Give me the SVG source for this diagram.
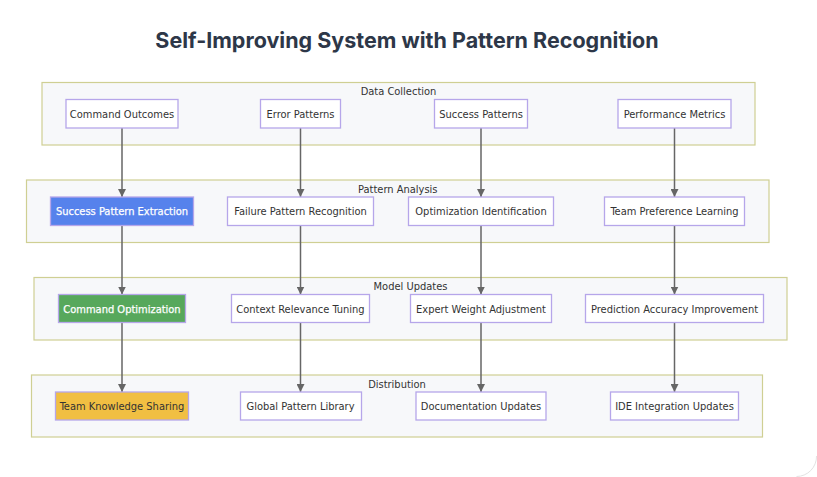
<svg xmlns="http://www.w3.org/2000/svg" width="817" height="477" viewBox="0 0 817 477">
<defs>
<marker id="ah" viewBox="0 0 10 10" refX="10" refY="5" markerWidth="8" markerHeight="8" markerUnits="userSpaceOnUse" orient="auto">
<path d="M0,0 L10,5 L0,10 z" fill="#666"/>
</marker>
<style>
.bg{fill:#ffffff}
.title{font-family:Inter,"Liberation Sans",sans-serif;font-size:21.5px;font-weight:700;fill:#2d3748;text-anchor:middle}
.cl{fill:#f7f8fa;stroke:#cfcf93;stroke-width:1.2}
.clt{font-family:"DejaVu Sans Condensed","DejaVu Sans",sans-serif;font-size:11px;fill:#333;text-anchor:middle}
.nd{fill:#ffffff;stroke:#b6a6ea;stroke-width:1.3}
.nt{font-family:"DejaVu Sans Condensed","DejaVu Sans",sans-serif;font-size:11px;fill:#333;text-anchor:middle}
.blue{fill:#5682ec}
.green{fill:#57a85c}
.yellow{fill:#f1bf42}
.wt{fill:#ffffff;stroke:#ffffff;stroke-width:0.25}
.edge{stroke:#666;stroke-width:1.5;fill:none;marker-end:url(#ah)}
.frame{fill:none;stroke:#e2e2e2;stroke-width:1}
</style>
</defs>
<rect class="bg" x="0" y="0" width="817" height="477"/>
<path class="frame" d="M816.5,456 A20,20 0 0 1 796.5,476.5"/>
<text class="title" x="407" y="47.5">Self-Improving System with Pattern Recognition</text>

<g id="cluster-data-collection">
<rect class="cl" x="42" y="82.5" width="713" height="62.5"/>
<text class="clt" x="398.5" y="95">Data Collection</text>
</g>
<g id="cluster-pattern-analysis">
<rect class="cl" x="26.5" y="180" width="742.5" height="62.5"/>
<text class="clt" x="397.75" y="193">Pattern Analysis</text>
</g>
<g id="cluster-model-updates">
<rect class="cl" x="34" y="277.5" width="753" height="62.5"/>
<text class="clt" x="410.5" y="290">Model Updates</text>
</g>
<g id="cluster-distribution">
<rect class="cl" x="31.5" y="375" width="731" height="62"/>
<text class="clt" x="397" y="388">Distribution</text>
</g>

<g id="edges">
<line class="edge" x1="122" y1="128" x2="122" y2="197"/>
<line class="edge" x1="300.5" y1="128" x2="300.5" y2="197"/>
<line class="edge" x1="481" y1="128" x2="481" y2="197"/>
<line class="edge" x1="674.5" y1="128" x2="674.5" y2="197"/>
<line class="edge" x1="122" y1="225.5" x2="122" y2="294.5"/>
<line class="edge" x1="300.5" y1="225.5" x2="300.5" y2="294.5"/>
<line class="edge" x1="481" y1="225.5" x2="481" y2="294.5"/>
<line class="edge" x1="674.5" y1="225.5" x2="674.5" y2="294.5"/>
<line class="edge" x1="122" y1="322.5" x2="122" y2="392"/>
<line class="edge" x1="300.5" y1="322.5" x2="300.5" y2="392"/>
<line class="edge" x1="481" y1="322.5" x2="481" y2="392"/>
<line class="edge" x1="674.5" y1="322.5" x2="674.5" y2="392"/>
</g>

<g id="command-outcomes"><rect class="nd" x="66" y="99.5" width="112" height="28.5"/><text class="nt" x="122" y="117.5">Command Outcomes</text></g>
<g id="error-patterns"><rect class="nd" x="260.5" y="99.5" width="80" height="28.5"/><text class="nt" x="300.5" y="117.5">Error Patterns</text></g>
<g id="success-patterns"><rect class="nd" x="434.5" y="99.5" width="93" height="28.5"/><text class="nt" x="481" y="117.5">Success Patterns</text></g>
<g id="performance-metrics"><rect class="nd" x="618" y="99.5" width="113" height="28.5"/><text class="nt" x="674.5" y="117.5">Performance Metrics</text></g>

<g id="success-pattern-extraction"><rect class="nd blue" x="50.5" y="197" width="143" height="28.5"/><text class="nt wt" x="122" y="215">Success Pattern Extraction</text></g>
<g id="failure-pattern-recognition"><rect class="nd" x="227.5" y="197" width="146" height="28.5"/><text class="nt" x="300.5" y="215">Failure Pattern Recognition</text></g>
<g id="optimization-identification"><rect class="nd" x="408.5" y="197" width="145" height="28.5"/><text class="nt" x="481" y="215">Optimization Identification</text></g>
<g id="team-preference-learning"><rect class="nd" x="604.5" y="197" width="140" height="28.5"/><text class="nt" x="674.5" y="215">Team Preference Learning</text></g>

<g id="command-optimization"><rect class="nd green" x="58.5" y="294.5" width="127" height="28"/><text class="nt wt" x="122" y="312.5">Command Optimization</text></g>
<g id="context-relevance-tuning"><rect class="nd" x="231.5" y="294.5" width="138" height="28"/><text class="nt" x="300.5" y="312.5">Context Relevance Tuning</text></g>
<g id="expert-weight-adjustment"><rect class="nd" x="410.5" y="294.5" width="141" height="28"/><text class="nt" x="481" y="312.5">Expert Weight Adjustment</text></g>
<g id="prediction-accuracy-improvement"><rect class="nd" x="585.5" y="294.5" width="178" height="28"/><text class="nt" x="674.5" y="312.5">Prediction Accuracy Improvement</text></g>

<g id="team-knowledge-sharing"><rect class="nd yellow" x="55.5" y="392" width="133" height="28"/><text class="nt" x="122" y="410" fill="#222">Team Knowledge Sharing</text></g>
<g id="global-pattern-library"><rect class="nd" x="240.5" y="392" width="121" height="28"/><text class="nt" x="300.5" y="410">Global Pattern Library</text></g>
<g id="documentation-updates"><rect class="nd" x="416" y="392" width="130" height="28"/><text class="nt" x="481" y="410">Documentation Updates</text></g>
<g id="ide-integration-updates"><rect class="nd" x="610.5" y="392" width="128" height="28"/><text class="nt" x="674.5" y="410">IDE Integration Updates</text></g>
</svg>
